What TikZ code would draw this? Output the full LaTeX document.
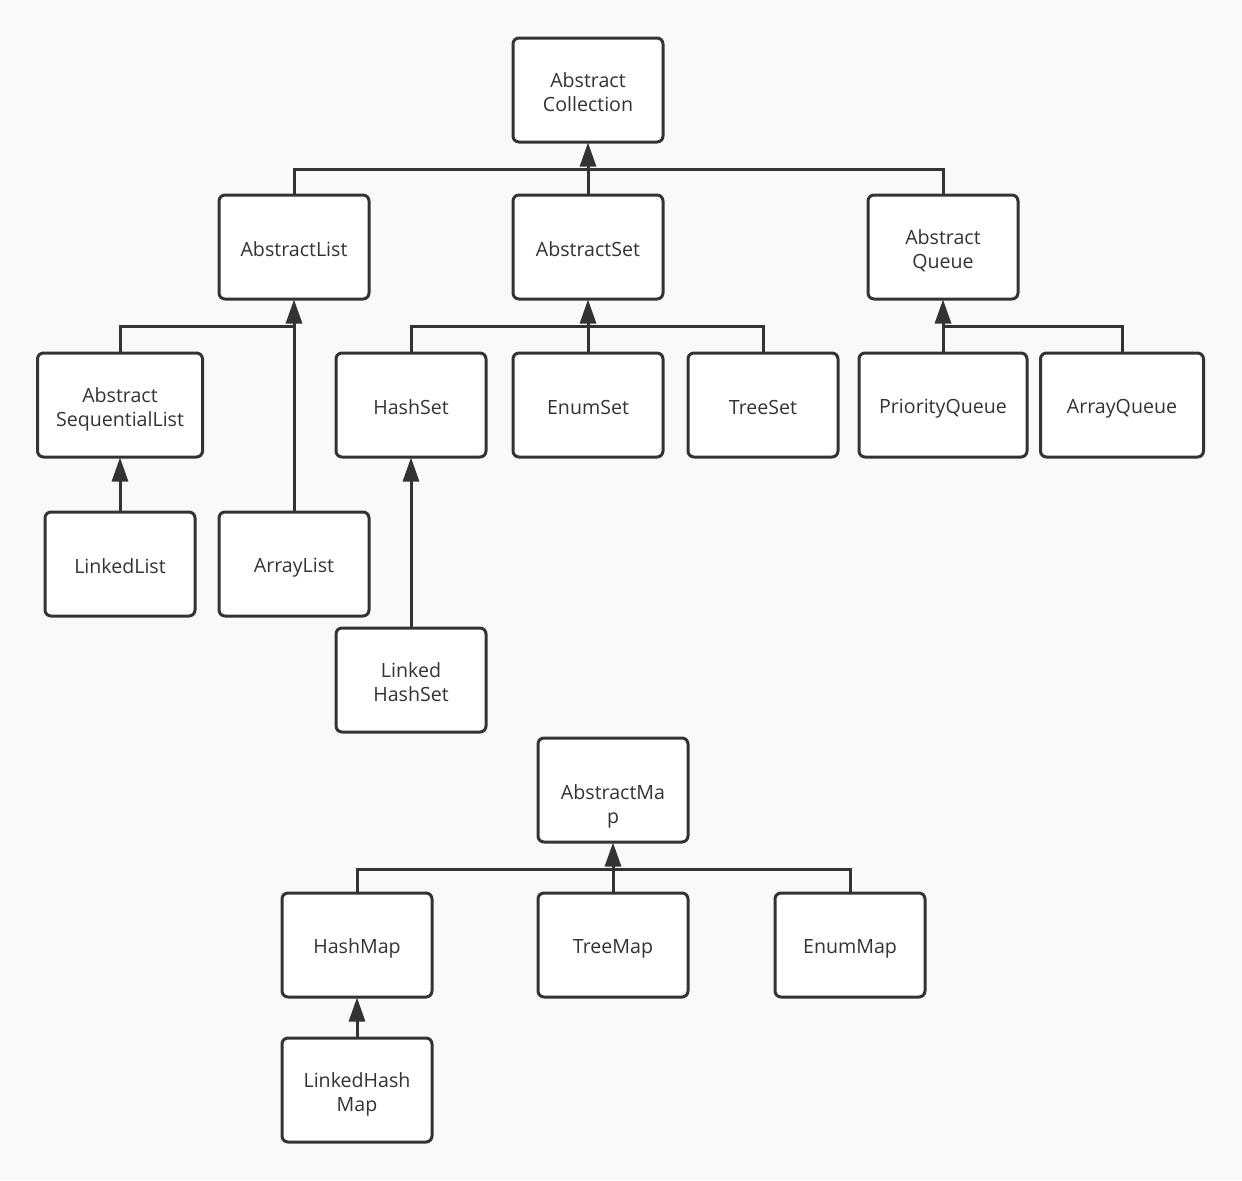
\documentclass[tikz,border=0pt]{standalone}
\usepackage{fontspec}
\setmainfont{Open Sans}
\usetikzlibrary{arrows.meta}
\definecolor{bg}{HTML}{F9F9F9}
\definecolor{ink}{HTML}{333333}
\newcommand\oneln{\rule[-1.25pt]{0pt}{12pt}}
\newcommand\topln{\rule{0pt}{13.2pt}}
\newcommand\hangln{\rule{0pt}{21.5pt}}
\tikzset{
  cls/.style={draw=ink, fill=white, line width=1.5pt, rounded corners=3pt,
    minimum width=75pt, minimum height=52pt, align=center, inner sep=1pt,
    text=ink, font=\fontsize{9.8pt}{12pt}\selectfont},
  link/.style={draw=ink, line width=1.5pt},
  arr/.style={draw=ink, line width=1.5pt, -{Triangle[length=12pt,width=8pt]}, shorten >=-0.5pt},
}
\begin{document}
\begin{tikzpicture}[x=0.5pt,y=-0.5pt]
\fill[bg] (0,0) rectangle (1242,1180);
\useasboundingbox (0,0) rectangle (1242,1180);
% nodes
\node[cls] (coll) at (588,90) {\topln Abstract\\Collection\strut};
\node[cls] (alist) at (294,247) {\oneln AbstractList};
\node[cls] (aset) at (588,247) {\oneln AbstractSet};
\node[cls] (aqueue) at (943,247) {\topln Abstract\\Queue\strut};
\node[cls, minimum width=82.5pt] (aseq) at (120,405) {\topln Abstract\\SequentialList\strut};
\node[cls] (hset) at (411,405) {\oneln HashSet};
\node[cls] (eset) at (588,405) {\oneln EnumSet};
\node[cls] (tset) at (763,405) {\oneln TreeSet};
\node[cls, minimum width=84pt] (pqueue) at (943,405) {\oneln PriorityQueue};
\node[cls, minimum width=81.5pt] (aqq) at (1122,405) {\oneln ArrayQueue};
\node[cls] (llist) at (120,564) {\oneln LinkedList};
\node[cls] (arlist) at (294,564) {\oneln ArrayList};
\node[cls] (lhset) at (411,680) {\topln Linked\\HashSet\strut};
\node[cls] (amap) at (613,790) {\hangln AbstractMa\\\smash{p}};
\node[cls] (hmap) at (357,945) {\oneln HashMap};
\node[cls] (tmap) at (613,945) {\oneln TreeMap};
\node[cls] (emap) at (850,945) {\oneln EnumMap};
\node[cls] (lhmap) at (357,1090) {\topln LinkedHash\\Map\strut};
% AbstractCollection children
\coordinate (b1) at ([yshift=-13pt]coll.south);
\draw[link] (alist.north) |- (b1);
\draw[link] (aqueue.north) |- (b1);
\draw[link] (aset.north) -- (b1);
\draw[arr] (b1) -- (coll.south);
% AbstractList children
\coordinate (b2) at ([yshift=-13pt]alist.south);
\draw[link] (aseq.north) |- (b2);
\draw[arr] (arlist.north) -- (alist.south);
% AbstractSet children
\coordinate (b3) at ([yshift=-13pt]aset.south);
\draw[link] (hset.north) |- (b3);
\draw[link] (tset.north) |- (b3);
\draw[link] (eset.north) -- (b3);
\draw[arr] (b3) -- (aset.south);
% AbstractQueue children
\coordinate (b4) at ([yshift=-13pt]aqueue.south);
\draw[link] (aqq.north) |- (b4);
\draw[link] (pqueue.north) -- (b4);
\draw[arr] (b4) -- (aqueue.south);
% single links
\draw[arr] (llist.north) -- (aseq.south);
\draw[arr] (lhset.north) -- (hset.south);
% AbstractMap children
\coordinate (b5) at ([yshift=-13pt]amap.south);
\draw[link] (hmap.north) |- (b5);
\draw[link] (emap.north) |- (b5);
\draw[link] (tmap.north) -- (b5);
\draw[arr] (b5) -- (amap.south);
\draw[arr] (lhmap.north) -- (hmap.south);
\end{tikzpicture}
\end{document}
